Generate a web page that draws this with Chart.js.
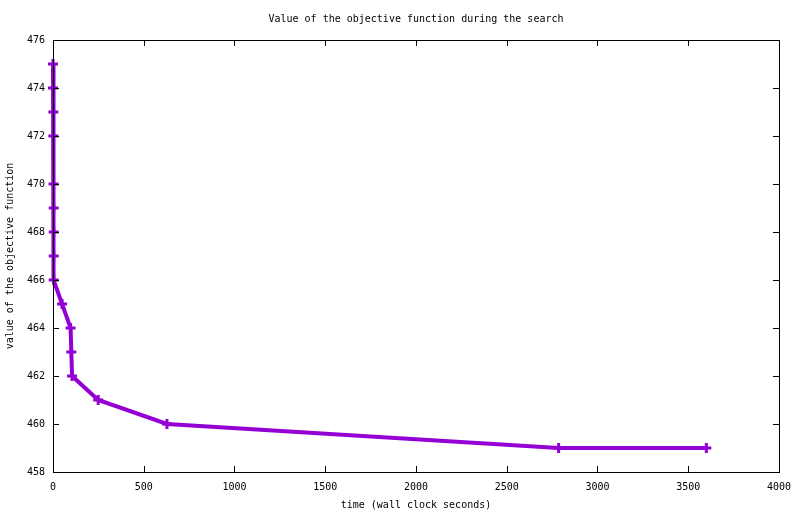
<!DOCTYPE html>
<html>
<head>
<meta charset="utf-8">
<script src="https://cdn.jsdelivr.net/npm/chart.js@4"></script>
<style>
  html, body { margin: 0; padding: 0; background: #fff; }
  #wrap { width: 800px; height: 514px; }
</style>
</head>
<body>
<div id="wrap"><canvas id="canvas_objective"></canvas></div>
<script>
// search times (s) and objective values
const times = [0, 0, 2, 2, 3, 4, 4, 4, 4, 50, 97, 101, 105, 249, 628, 2786, 3600];
const objective = [475, 474, 473, 472, 470, 469, 468, 467, 466, 465, 464, 463, 462, 461, 460, 459, 459];
const xTicks = [0, 500, 1000, 1500, 2000, 2500, 3000, 3500, 4000];
const yTicks = [458, 460, 462, 464, 466, 468, 470, 472, 474, 476];

const FONT = 'DejaVu Sans Mono';

// gnuplot style frame with inward ticks on all four sides
const framePlugin = {
  id: 'frame',
  afterDatasetsDraw(chart) {
    const {ctx, chartArea, scales} = chart;
    const len = 6;
    ctx.save();
    ctx.strokeStyle = '#000';
    ctx.lineWidth = 1;
    ctx.beginPath();
    xTicks.forEach(v => {
      const px = Math.round(scales.x.getPixelForValue(v)) + 0.5;
      ctx.moveTo(px, chartArea.bottom); ctx.lineTo(px, chartArea.bottom - len);
      ctx.moveTo(px, chartArea.top); ctx.lineTo(px, chartArea.top + len);
    });
    yTicks.forEach(v => {
      const py = Math.round(scales.y.getPixelForValue(v)) + 0.5;
      ctx.moveTo(chartArea.left, py); ctx.lineTo(chartArea.left + len, py);
      ctx.moveTo(chartArea.right, py); ctx.lineTo(chartArea.right - len, py);
    });
    ctx.stroke();
    ctx.strokeRect(Math.round(chartArea.left) + 0.5, Math.round(chartArea.top) + 0.5,
      Math.round(chartArea.right - chartArea.left), Math.round(chartArea.bottom - chartArea.top));
    ctx.restore();
  }
};

const config = {
  type: 'line',
  data: {
    datasets: [{
      label: 'objective',
      data: times.map((t, i) => ({x: t, y: objective[i]})),
      borderColor: '#9400d3',
      backgroundColor: '#9400d3',
      borderWidth: 4,
      tension: 0,
      pointStyle: 'cross',
      pointRadius: 5,
      pointBorderWidth: 3,
      pointHoverRadius: 5,
      clip: false
    }]
  },
  options: {
    responsive: true,
    maintainAspectRatio: false,
    animation: false,
    layout: { padding: { top: 0, right: 18, bottom: 0, left: 0 } },
    scales: {
      x: {
        type: 'linear',
        min: 0, max: 4000,
        afterBuildTicks: s => { s.ticks = xTicks.map(v => ({value: v})); },
        afterFit: s => { s.height = 42; },
        grid: { display: false, drawTicks: false },
        border: { display: false },
        ticks: {
          color: '#000', padding: 9, font: { family: FONT, size: 10 },
          callback: v => String(v)
        },
        title: {
          display: true,
          text: 'time (wall clock seconds)',
          color: '#000',
          padding: { top: 0, bottom: 3 },
          font: { family: FONT, size: 10 }
        }
      },
      y: {
        type: 'linear',
        min: 458, max: 476,
        afterBuildTicks: s => { s.ticks = yTicks.map(v => ({value: v})); },
        afterFit: s => { s.width = 53; },
        grid: { display: false, drawTicks: false },
        border: { display: false },
        ticks: {
          color: '#000', padding: 8, font: { family: FONT, size: 10 },
          callback: v => String(v)
        },
        title: {
          display: true,
          text: 'value of the objective function',
          color: '#000',
          padding: { top: 4, bottom: 0 },
          font: { family: FONT, size: 10 }
        }
      }
    },
    plugins: {
      legend: { display: false },
      tooltip: { enabled: false },
      title: {
        display: true,
        fullSize: false,
        text: 'Value of the objective function during the search',
        color: '#000',
        font: { family: FONT, size: 10, weight: 'normal' },
        padding: { top: 13, bottom: 15 }
      }
    }
  },
  plugins: [framePlugin]
};

window.chart = new Chart(document.getElementById('canvas_objective'), config);
</script>
</body>
</html>
